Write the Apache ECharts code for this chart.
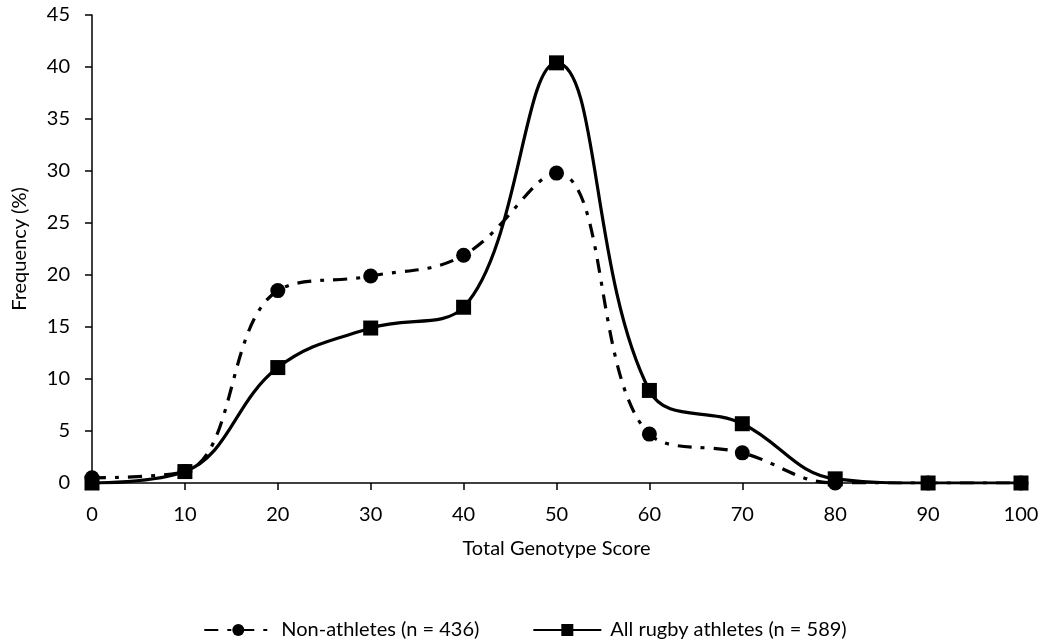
<!DOCTYPE html>
<html>
<head>
<meta charset="utf-8">
<script src="https://cdn.jsdelivr.net/npm/echarts@6/dist/echarts.min.js"></script>
<style>
  html, body { margin: 0; padding: 0; background: #fff; }
  #chart { width: 1050px; height: 641px; }
</style>
</head>
<body>
<div id="chart"></div>
<script>
// Total genotype score bins and frequency (%) per group
const scores = [0, 10, 20, 30, 40, 50, 60, 70, 80, 90, 100];
const nonAthletes = [0.5, 1.1, 18.5, 19.9, 21.9, 29.8, 4.7, 2.9, 0, 0, 0];
const rugbyAthletes = [0, 1.1, 11.1, 14.9, 16.9, 40.4, 8.9, 5.7, 0.4, 0, 0];
const seriesNames = ['Non-athletes (n = 436)', 'All rugby athletes (n = 589)'];

const FONT = 'Lato, "Open Sans", sans-serif';
const pairs = (ys) => scores.map((x, i) => [x, ys[i]]);

const chart = echarts.init(document.getElementById('chart'), null, { renderer: 'canvas' });
chart.setOption({
  animation: false,
  backgroundColor: '#ffffff',
  textStyle: { fontFamily: FONT, color: '#000' },
  grid: { left: 92, right: 29, top: 15, bottom: 158 },
  legend: {
    top: 615,
    left: 'center',
    itemGap: 53,
    itemWidth: 68,
    itemHeight: 15,
    textStyle: { fontFamily: FONT, fontSize: 20, color: '#000', padding: [0, 0, 0, 4] },
    data: seriesNames
  },
  xAxis: {
    type: 'value',
    min: 0, max: 100, interval: 10,
    name: 'Total Genotype Score',
    nameLocation: 'middle',
    nameGap: 56,
    nameTextStyle: { fontFamily: FONT, fontSize: 20, color: '#000' },
    axisLine: { lineStyle: { color: '#000', width: 1.5 } },
    axisTick: { show: true, length: 7, lineStyle: { color: '#000', width: 1.5 } },
    axisLabel: { fontFamily: FONT, fontSize: 20, color: '#000', margin: 22 },
    splitLine: { show: false }
  },
  yAxis: {
    type: 'value',
    min: 0, max: 45, interval: 5,
    name: 'Frequency (%)',
    nameLocation: 'middle',
    nameGap: 62,
    nameTextStyle: { fontFamily: FONT, fontSize: 20, color: '#000' },
    axisLine: { show: true, lineStyle: { color: '#000', width: 1.5 } },
    axisTick: { show: true, length: 7, lineStyle: { color: '#000', width: 1.5 } },
    axisLabel: { fontFamily: FONT, fontSize: 20, color: '#000', margin: 22 },
    splitLine: { show: false }
  },
  series: [
    {
      name: seriesNames[0],
      type: 'line',
      data: pairs(nonAthletes),
      smooth: 0.4,
      symbol: 'circle',
      symbolSize: 15,
      itemStyle: { color: '#000' },
      lineStyle: { color: '#000', width: 3.2, type: [14, 9, 4, 9] },
      z: 2
    },
    {
      name: seriesNames[1],
      type: 'line',
      data: pairs(rugbyAthletes),
      smooth: 0.4,
      symbol: 'rect',
      symbolSize: 15,
      itemStyle: { color: '#000' },
      lineStyle: { color: '#000', width: 3.2, type: 'solid' },
      z: 3
    }
  ]
});
</script>
</body>
</html>
